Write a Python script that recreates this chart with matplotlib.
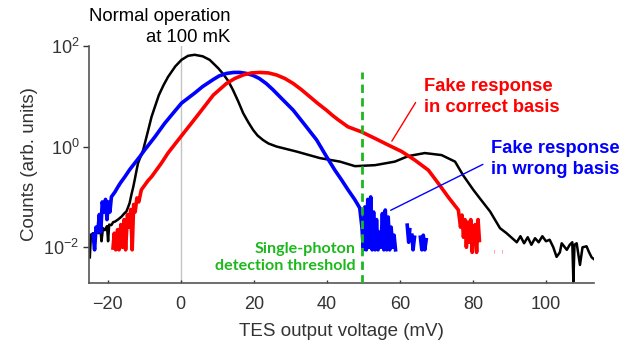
import numpy as np
import matplotlib
matplotlib.use("Agg")
import matplotlib.pyplot as plt
from matplotlib.ticker import LogLocator, LogFormatterSciNotation, NullLocator

nan = np.nan

# TES output voltage (mV) and log10(counts)
black_x = [-24.9, -24.6, -24.0, -23.5, -23.0, -22.5, -22.0, -21.7, -21.3, -20.8,
           -20.2, -19.9, -19.6, -19.0, -18.5, -18.0, -17.2, -16.2, -15.5, -14.9,
           -14.4, -14.0, -13.5, -13.0, -12.5, -12.1, -11.7, -10.3, -9.0, -8.0,
           -6.0, -4.7, -3.5, -1.5, 0.2, 2.0, 3.8, 6.0, 7.9, 8.9,
           10.3, 11.6, 13.0, 14.3, 15.7, 17.1, 18.5, 19.8, 21.0, 22.5,
           24.0, 26.2, 31.7, 38.1, 43.6, 47.7, 53.2,
           58.6, 62.3, 66.8, 71.4, 75.1, 77.3, 80.1, 81.9, 84.7, 87.4,
           89.2, 92.0, 93, 94, 95, 96, 97, 98, 99, 100,
           101, 102, 102.9, 103.8, 104.3, 105.7, 106.5, 107.2, 107.5, 107.8,
           108.4, 109.3, 110.0, 111.1, 111.8, 112.5, 113.4]
black_log = [-2.2, -1.75, -1.72, -1.8, -1.68, -1.72, -1.65, -1.88, -1.62, -1.66,
             -1.58, -1.88, -1.55, -1.56, -1.5, -1.49, -1.45, -1.39, -1.33, -1.29,
             -1.2, -1.12, -0.95, -0.80, -0.62, -0.47, -0.33, -0.07, 0.3, 0.59,
             1.02, 1.22, 1.38, 1.59, 1.72, 1.8, 1.82, 1.79, 1.72, 1.65,
             1.55, 1.44, 1.3, 1.12, 0.9, 0.66, 0.48, 0.33, 0.22, 0.13,
             0.06, 0.0, -0.10, -0.23, -0.30, -0.39, -0.37,
             -0.30, -0.19, -0.13, -0.17, -0.30, -0.57, -0.86, -1.03, -1.29, -1.62,
             -1.72, -1.9, -1.78, -1.92, -1.8, -1.95, -1.82, -1.9, -1.78, -1.88,
             -1.85, -2.0, -2.19, -2.1, -1.92, -2.05, -1.95, -1.9, -2.68, -1.95,
             -1.92, -2.35, -2.0, -1.98, -2.1, -2.2, -2.25]

blue_x = [-24.0, -23.6, -23.2, -22.7, -22.3, -21.9, -21.5, -21.0, -20.6, -20.2,
          -19.8, -19.4, -19.0, -18.5, -18.0, -17.2, -16.5, -15.3, -14.0, -12.6,
          -11.2, -9.9, -7.1, -4.4, -2.0, 0.2, 3.8, 6.0, 8.9, 10.5,
          12.5, 14.5, 16.2, 18.0, 19.8, 21.5, 23.4, 25.2, 27.1, 30.8,
          34.4, 37.2, 39.9, 42.2, 44.0, 45.8,
          47.7, 49.0, 49.6, 50.0, 50.4, 50.8, 51.2, 51.6, 52.0, 52.4,
          52.8, 53.2, 53.6, 54.0, 54.4, 54.8, 55.2, 55.6, 56.0, 56.4,
          56.8, 57.2, 57.6, 58.0, 58.4, 58.8, nan, 62.0, 62.4, 62.7,
          nan, 63.3, 63.6, 64.0, nan, 65.6, 66.0, 66.4, 66.8, 67.2]
blue_log = [-1.75, -2.05, -1.6, -1.69, -1.35, -1.7, -1.1, -1.3, -1.05, -1.45,
            -1.1, -1.3, -1.0, -0.95, -0.9, -0.80, -0.72, -0.60, -0.46, -0.33,
            -0.2, -0.07, 0.19, 0.46, 0.67, 0.86, 1.06, 1.19, 1.33, 1.40,
            1.45, 1.47, 1.47, 1.45, 1.41, 1.35, 1.25, 1.13, 0.99, 0.72,
            0.39, 0.13, -0.20, -0.47, -0.66, -0.86,
            -1.06, -1.22, -1.6, -2.05, -1.2, -2.05, -1.05, -2.0, -1.0, -2.05,
            -1.3, -2.05, -1.45, -2.05, -1.7, -2.0, -1.33, -2.05, -1.26, -2.05,
            -1.4, -2.05, -1.6, -2.0, -1.76, -2.05, nan, -1.56, -1.9, -1.65,
            nan, -1.76, -2.05, -1.8, nan, -1.8, -2.05, -1.76, -2.05, -1.85]

red_x = [-18.6, -18.2, -17.8, -17.3, -16.9, -16.4, -16.0, -15.5, -15.1, -14.6,
         -14.2, -13.7, -13.3, -12.9, -12.5, -12.0, -11.5, -10.8, -10.0, -9.0,
         -8.0, -6.5, -5.3, -3.5, -0.7, 2.9, 5.7, 8.9, 12.5, 14.8,
         17.1, 19.3, 21.6, 24.0, 26.2, 28.5, 30.8, 33.0, 35.3, 37.6,
         39.9, 41.5, 43.1, 45.8, 49.5, 53.2, 56.8,
         60.5, 64.1, 67.8, 70.5, 73.2, 76.0, 76.6, 77.0, 77.4, 77.8,
         78.2, 78.6, 79.0, 79.4, 79.8, 80.2, 80.6, 81.0, 81.4, 81.8,
         nan, 85.9, 86.0, nan, 88.1, 88.2]
red_log = [-2.05, -1.72, -2.05, -1.65, -2.05, -1.55, -2.0, -1.45, -2.05, -1.35,
           -1.6, -1.25, -2.05, -1.15, -1.3, -1.02, -1.1, -0.86, -0.78, -0.68,
           -0.6, -0.45, -0.33, -0.13, 0.13, 0.46, 0.72, 1.02, 1.25, 1.35,
           1.42, 1.46, 1.47, 1.46, 1.42, 1.35, 1.25, 1.13, 0.99, 0.85,
           0.72, 0.62, 0.53, 0.39, 0.29, 0.16, 0.03,
           -0.10, -0.27, -0.47, -0.73, -1.0, -1.26, -1.6, -1.36, -1.8, -1.45,
           -2.0, -1.5, -1.9, -1.45, -2.1, -1.6, -1.55, -2.1, -1.45, -1.9,
           nan, -2.09, -2.09, nan, -2.09, -2.09]

threshold = 49.5
x_ticks = [-20, 0, 20, 40, 60, 80, 100]

plt.rcParams['font.family'] = ['Liberation Sans', 'DejaVu Sans']
plt.rcParams['mathtext.default'] = 'regular'

fig = plt.figure(figsize=(6.41, 3.44), dpi=100)
ax = fig.add_axes([0.139, 0.1765, 0.788, 0.6906])

ax.axvline(0, color='#c4c4c4', lw=1.0, zorder=0)

ax.plot(black_x, 10 ** np.array(black_log), color='black', lw=1.8, zorder=2)
ax.plot(blue_x, 10 ** np.array(blue_log), color='#0000ff', lw=2.6, zorder=3)
ax.plot(red_x, 10 ** np.array(red_log), color='#ff0000', lw=2.6, zorder=3,
        solid_capstyle='butt')

ax.set_yscale('log')
ax.set_xlim(-25.1, 113.2)
ax.set_ylim(10 ** -2.714, 100)

ax.vlines(threshold, 10 ** -2.714, 10 ** 1.48, colors='#1db81d', lw=2,
          linestyles=(0, (3.0, 1.9)), zorder=4)

# annotation leaders
ax.annotate('', xy=(57.4, 10 ** 0.06), xytext=(64.7, 10 ** 0.92),
            arrowprops=dict(arrowstyle='-', color='#ff0000', lw=1))
ax.annotate('', xy=(56.8, 10 ** -1.29), xytext=(83.4, 10 ** -0.33),
            arrowprops=dict(arrowstyle='-', color='#0000ff', lw=1))

ax.set_xticks(x_ticks)
ax.yaxis.set_major_locator(LogLocator(base=100))
ax.yaxis.set_major_formatter(LogFormatterSciNotation())
ax.yaxis.set_minor_locator(NullLocator())
ax.tick_params(axis='y', direction='out', length=4, width=1, colors='#333333',
               labelsize=13, pad=3)
ax.tick_params(axis='x', direction='in', length=2, width=1, colors='#333333',
               labelsize=13, pad=9)
for s in ['top', 'right']:
    ax.spines[s].set_visible(False)
for s in ['left', 'bottom']:
    ax.spines[s].set_color('#555555')
    ax.spines[s].set_linewidth(1.2)

ax.set_xlabel('TES output voltage (mV)', fontsize=13.5, color='#333333', labelpad=7.5)
ax.set_ylabel('Counts (arb. units)', fontsize=13.5, color='#333333', labelpad=4)

fig.text(230 / 641, 1 - 8 / 344, 'Normal operation\nat 100 mK', ha='right',
         va='top', fontsize=13.3, color='black', linespacing=1.3)
fig.text(424 / 641, 1 - 78 / 344, 'Fake response\nin correct basis', ha='left',
         va='top', fontsize=13.2, color='#ff0000', fontweight='bold', linespacing=1.3)
fig.text(491 / 641, 1 - 140 / 344, 'Fake response\nin wrong basis', ha='left',
         va='top', fontsize=13.2, color='#0000ff', fontweight='bold', linespacing=1.3)
fig.text(356 / 641, 1 - 242 / 344, 'Single-photon\ndetection threshold', ha='right',
         va='top', fontsize=11.6, color='#1db81d', fontweight='bold',
         family=['Lato', 'DejaVu Sans'], linespacing=1.3)

fig.savefig('out.png', dpi=100)
